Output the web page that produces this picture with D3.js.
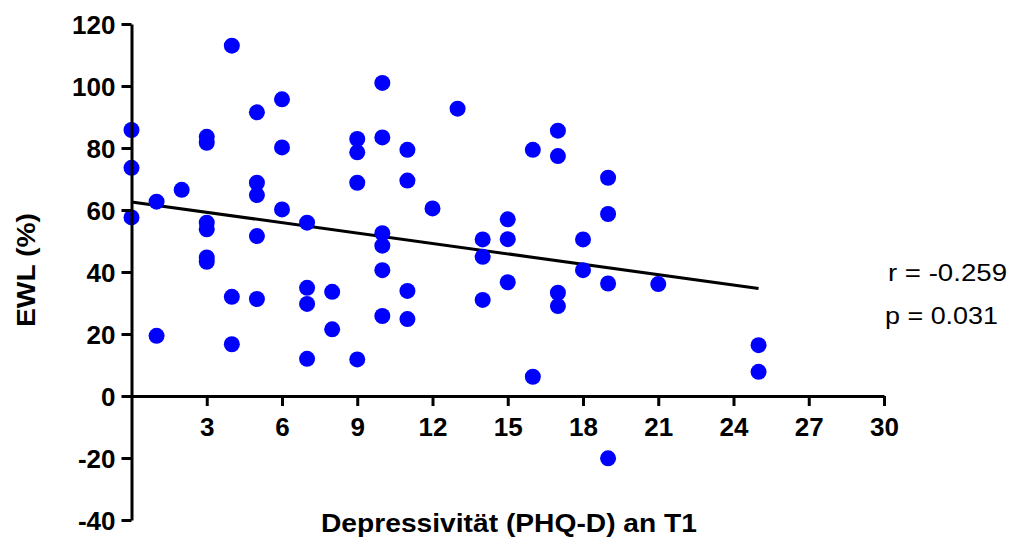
<!DOCTYPE html>
<html>
<head>
<meta charset="utf-8">
<script src="https://cdn.jsdelivr.net/npm/d3@7"></script>
<style>
  body { margin: 0; background: #fff; }
  svg { display: block; }
  text { font-family: "Liberation Sans", Arial, sans-serif; }
</style>
</head>
<body>
<svg id="chart" width="1010" height="540"></svg>
<script>
const xVals = [0,0,0, 1,1, 2, 3,3,3,3,3,3, 4,4,4, 5,5,5,5,5, 6,6,6, 7,7,7,7, 8,8, 9,9,9,9,
  10,10,10,10,10,10, 11,11,11,11, 12, 13, 14,14,14, 15,15,15, 16,16, 17,17,17,17, 18,18,
  19,19,19,19, 21, 25,25];
const yVals = [85.8,73.6,57.6, 62.7,19.4, 66.5, 83.6,81.7,55.9,53.8,44.7,43.3, 113,32,16.7,
  91.5,68.8,64.8,51.6,31.3, 95.7,80.2,60.2, 55.9,34.9,29.7,12, 33.6,21.5, 82.9,78.6,68.8,11.8,
  101,83.4,52.5,48.5,40.6,25.8, 79.4,69.5,33.9,24.8, 60.5, 92.7, 50.5,44.9,31, 57,50.6,36.7,
  79.4,6.2, 85.6,77.4,33.3,29, 50.5,40.6, 70.4,58.7,36.3,-20.1, 36.1, 16.4,7.8];
const fitX = [0, 25];
const fitY = [62.6, 34.7];
const xTicks = [3,6,9,12,15,18,21,24,27,30];
const yTicks = [-40,-20,0,20,40,60,80,100,120];
const xTitle = "Depressivität (PHQ-D) an T1";
const yTitle = "EWL (%)";
const statLines = ["r = -0.259", "p = 0.031"];

const svg = d3.select("#chart");
const x = d3.scaleLinear().domain([0, 30]).range([131.5, 884]);
const y = d3.scaleLinear().domain([-40, 120]).range([520, 24]);

// regression line
svg.append("line")
  .attr("x1", x(fitX[0])).attr("y1", y(fitY[0]))
  .attr("x2", x(fitX[1])).attr("y2", y(fitY[1]))
  .attr("stroke", "#000").attr("stroke-width", 3);

// points
svg.append("g").selectAll("circle")
  .data(xVals.map((v, i) => [v, yVals[i]]))
  .join("circle")
  .attr("cx", d => x(d[0])).attr("cy", d => y(d[1]))
  .attr("r", 8).attr("fill", "#0000ff");

const fmt = d => String(d);
// x axis at y=0
const gx = svg.append("g").attr("transform", `translate(0,${y(0)})`)
  .call(d3.axisBottom(x).tickValues(xTicks).tickFormat(fmt).tickSize(10).tickSizeOuter(0).tickPadding(12));
// y axis
const gy = svg.append("g").attr("transform", `translate(${x(0)},0)`)
  .call(d3.axisLeft(y).tickValues(yTicks).tickFormat(fmt).tickSize(10).tickSizeOuter(0).tickPadding(6));

[gx, gy].forEach(g => {
  g.select(".domain").attr("stroke", "#000").attr("stroke-width", 3);
  g.selectAll(".tick line").attr("stroke", "#000").attr("stroke-width", 3);
  g.selectAll(".tick text").attr("fill", "#000")
    .style("font-family", '"Liberation Sans", Arial, sans-serif')
    .style("font-size", "26px").style("font-weight", "bold");
});
gy.selectAll(".tick text").attr("dy", "0.36em");

// axis titles
svg.append("text")
  .attr("x", 509).attr("y", 532)
  .attr("text-anchor", "middle")
  .style("font-size", "26px").style("font-weight", "bold")
  .attr("textLength", 376).attr("lengthAdjust", "spacingAndGlyphs")
  .text(xTitle);

svg.append("text")
  .attr("transform", "translate(35,270) rotate(-90)")
  .attr("text-anchor", "middle")
  .style("font-size", "26px").style("font-weight", "bold")
  .attr("textLength", 114).attr("lengthAdjust", "spacingAndGlyphs")
  .text(yTitle);

// stats
const statY = [281, 324];
const statW = [119, 113];
svg.append("g").selectAll("text")
  .data(statLines)
  .join("text")
  .attr("x", (d, i) => i === 0 ? 888 : 885)
  .attr("y", (d, i) => statY[i])
  .style("font-size", "24px")
  .attr("textLength", (d, i) => statW[i]).attr("lengthAdjust", "spacingAndGlyphs")
  .text(d => d);
</script>
</body>
</html>
